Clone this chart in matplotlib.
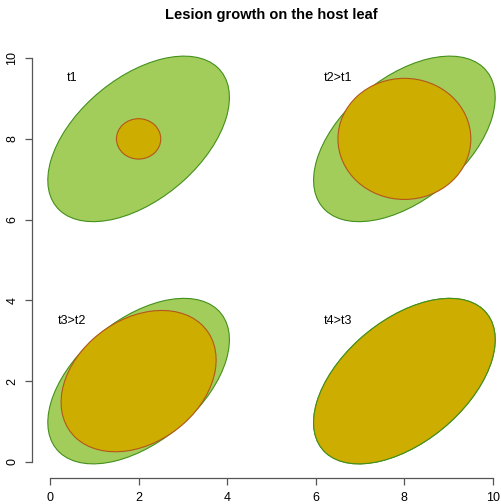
import numpy as np
import matplotlib
matplotlib.use("Agg")
import matplotlib.pyplot as plt
from matplotlib.patches import Ellipse

# ---- data ----
stage_labels = ["t1", "t2>t1", "t3>t2", "t4>t3"]
label_x = [0.5, 6.5, 0.5, 6.5]
label_y = [9.5, 9.5, 3.5, 3.5]
centre_x = [2, 8, 2, 8]
centre_y = [8, 8, 2, 2]
leaf_scale = [2.05, 2.05, 2.05, 2.05]
leaf_corr = [0.5, 0.5, 0.5, 0.5]
lesion_scale = [0.5, 1.5, 1.75, 2.05]
lesion_corr = [0.0, 0.0, 0.3, 0.5]
ticks = [0, 2, 4, 6, 8, 10]

leaf_fill = "#A2CD5A"
leaf_edge = "#44901C"
lesion_fill = "#CDAD00"
lesion_edge = "#B4561C"

plt.rcParams['font.family'] = ['Liberation Sans', 'DejaVu Sans']

W, H = 502, 504
fig = plt.figure(figsize=(W / 100, H / 100), dpi=100)
left, right = 32.3, 510.7
top, bottom = 42.0, 478.0
ax = fig.add_axes([left / W, (H - bottom) / H, (right - left) / W, (bottom - top) / H])
ax.set_xlim(-0.4, 10.4)
ax.set_ylim(-0.4, 10.4)


def ell(cx, cy, t, r, **kw):
    # ellipse of a correlation matrix r with scale t, rotated 45 deg in data space
    w = 2 * t * np.sqrt(1 + r)
    h = 2 * t * np.sqrt(1 - r)
    return Ellipse((cx, cy), w, h, angle=45, **kw)


for i in range(4):
    ax.add_patch(ell(centre_x[i], centre_y[i], leaf_scale[i], leaf_corr[i],
                     facecolor=leaf_fill, edgecolor=leaf_edge, linewidth=0.8, zorder=2))
    full = (lesion_scale[i] == leaf_scale[i] and lesion_corr[i] == leaf_corr[i])
    ax.add_patch(ell(centre_x[i], centre_y[i], lesion_scale[i], lesion_corr[i],
                     facecolor=lesion_fill,
                     edgecolor=leaf_edge if full else lesion_edge,
                     linewidth=0.8, zorder=3))
    ax.text(label_x[i], label_y[i], stage_labels[i], ha="center", va="center",
            fontsize=9, color="black", zorder=4)

for s in ["top", "right"]:
    ax.spines[s].set_visible(False)
for s in ["left", "bottom"]:
    ax.spines[s].set_bounds(0, 10)
    ax.spines[s].set_color("#555555")
    ax.spines[s].set_linewidth(0.9)

ax.set_xticks(ticks)
ax.set_yticks(ticks)
ax.set_xticklabels([str(t) for t in ticks], fontsize=9)
ax.set_yticklabels([str(t) for t in ticks], fontsize=9, rotation=90, va="center")
ax.tick_params(axis="both", direction="out", length=5, width=0.9, color="#555555", pad=5)

fig.text((left + right) / 2 / W, 1 - 15 / H, "Lesion growth on the host leaf",
         ha="center", va="center", fontsize=10.5, fontweight="bold")

fig.savefig("out.png", dpi=100)
